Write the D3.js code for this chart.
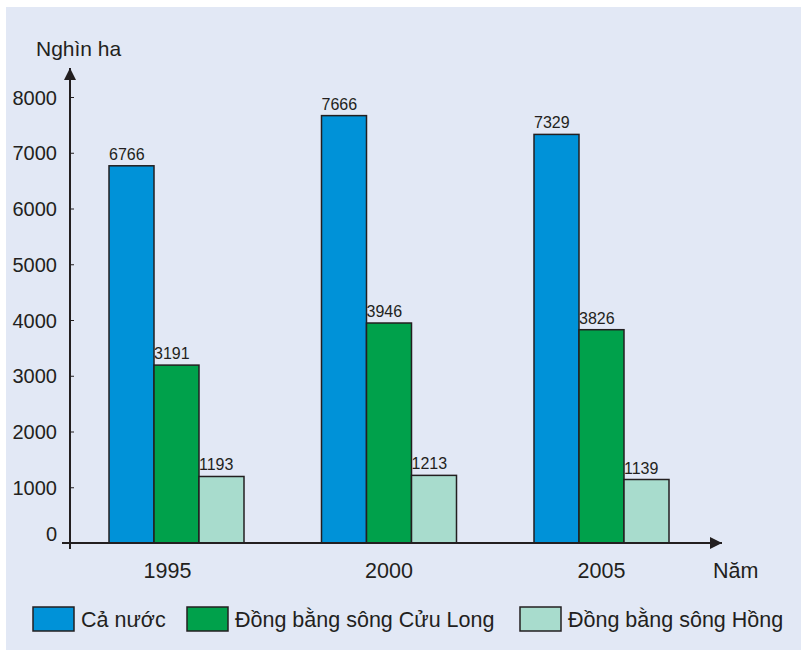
<!DOCTYPE html>
<html>
<head>
<meta charset="utf-8">
<script src="https://cdn.jsdelivr.net/npm/d3@7"></script>
<style>
  body { margin: 0; background: #fff; }
  text { font-family: "Liberation Sans", Arial, sans-serif; fill: #231f20; }
</style>
</head>
<body>
<script>
// data
var years = ["1995", "2000", "2005"];
var seriesNames = ["Cả nước", "Đồng bằng sông Cửu Long", "Đồng bằng sông Hồng"];
var caNuoc = [6766, 7666, 7329];
var cuuLong = [3191, 3946, 3826];
var songHong = [1193, 1213, 1139];
var yTicks = [0, 1000, 2000, 3000, 4000, 5000, 6000, 7000, 8000];
var colors = ["#0092d8", "#00a14b", "#a8dccd"];

var w = 802, h = 654;
var seriesValues = [caNuoc, cuuLong, songHong];

var svg = d3.select("body").append("svg")
    .attr("width", w)
    .attr("height", h);

// light panel behind everything
svg.append("rect")
    .attr("x", 6).attr("y", 7)
    .attr("width", 795).attr("height", 643)
    .style("fill", "#e2e8f5");

var y = d3.scaleLinear()
    .domain([0, 8000])
    .range([543, 97]);

var x0 = d3.scalePoint()
    .domain(years)
    .range([176.5, 601.5]);

var x1 = d3.scaleBand()
    .domain(d3.range(seriesNames.length))
    .range([-67.5, 67.5]);

// bars, one group per year
var groups = svg.selectAll(".year")
    .data(years)
    .enter()
    .append("g")
    .attr("class", "year")
    .attr("transform", function(d){ return "translate(" + x0(d) + ",0)"; });

groups.selectAll("rect")
    .data(function(d, i){
        return seriesValues.map(function(s, j){ return { s: j, v: s[i] }; });
    })
    .enter()
    .append("rect")
    .attr("x", function(d){ return x1(d.s); })
    .attr("y", function(d){ return y(d.v); })
    .attr("width", x1.bandwidth())
    .attr("height", function(d){ return y(0) - y(d.v); })
    .style("fill", function(d){ return colors[d.s]; })
    .style("stroke", "#231f20")
    .style("stroke-width", 1.5);

groups.selectAll(".val")
    .data(function(d, i){
        return seriesValues.map(function(s, j){ return { s: j, v: s[i] }; });
    })
    .enter()
    .append("text")
    .attr("class", "val")
    .attr("x", function(d){ return x1(d.s); })
    .attr("y", function(d){ return y(d.v) - 6; })
    .style("font-size", "16px")
    .text(function(d){ return d.v; });

// y axis
var yAxis = d3.axisLeft(y)
    .tickValues(yTicks)
    .tickSize(4)
    .tickPadding(9)
    .tickFormat(d3.format("d"));

var ya = svg.append("g")
    .attr("transform", "translate(70,0)")
    .call(yAxis);
ya.select(".domain").remove();
ya.selectAll(".tick line").attr("x2", 4).style("stroke", "#231f20");
ya.selectAll(".tick text")
    .style("font-size", "20px")
    .style("font-family", "'Liberation Sans', Arial, sans-serif")
    .style("fill", "#231f20")
    .attr("dy", function(d){ return d === 0 ? "-0.15em" : "0.35em"; });

// axis lines with arrows
svg.append("defs").append("marker")
    .attr("id", "arrow")
    .attr("viewBox", "0 0 10 10")
    .attr("refX", 10).attr("refY", 5)
    .attr("markerWidth", 6).attr("markerHeight", 6)
    .attr("markerUnits", "strokeWidth")
    .attr("orient", "auto")
    .append("path")
    .attr("d", "M0,0 L10,5 L0,10 z")
    .style("fill", "#231f20");

svg.append("line")
    .attr("x1", 70).attr("y1", 549)
    .attr("x2", 70).attr("y2", 68)
    .style("stroke", "#231f20").style("stroke-width", 2)
    .attr("marker-end", "url(#arrow)");

svg.append("line")
    .attr("x1", 62).attr("y1", y(0))
    .attr("x2", 722).attr("y2", y(0))
    .style("stroke", "#231f20").style("stroke-width", 2)
    .attr("marker-end", "url(#arrow)");

// year labels
svg.selectAll(".yearLabel")
    .data(years)
    .enter()
    .append("text")
    .attr("class", "yearLabel")
    .attr("x", function(d){ return x0(d) - (d === "1995" ? 9 : 0); })
    .attr("y", 578)
    .attr("text-anchor", "middle")
    .style("font-size", "21.5px")
    .text(function(d){ return d; });

svg.append("text")
    .attr("x", 36).attr("y", 56)
    .style("font-size", "21px")
    .text("Nghìn ha");

svg.append("text")
    .attr("x", 713).attr("y", 578)
    .style("font-size", "21.5px")
    .text("Năm");

// legend
var legendX = [33, 187, 520];
var legend = svg.selectAll(".legend")
    .data(seriesNames)
    .enter()
    .append("g")
    .attr("class", "legend")
    .attr("transform", function(d, i){ return "translate(" + legendX[i] + ",607)"; });

legend.append("rect")
    .attr("width", 41).attr("height", 24)
    .style("fill", function(d, i){ return colors[i]; })
    .style("stroke", "#231f20")
    .style("stroke-width", 1.5);

legend.append("text")
    .attr("x", 48).attr("y", 20)
    .style("font-size", "21.5px")
    .text(function(d){ return d; });
</script>
</body>
</html>
